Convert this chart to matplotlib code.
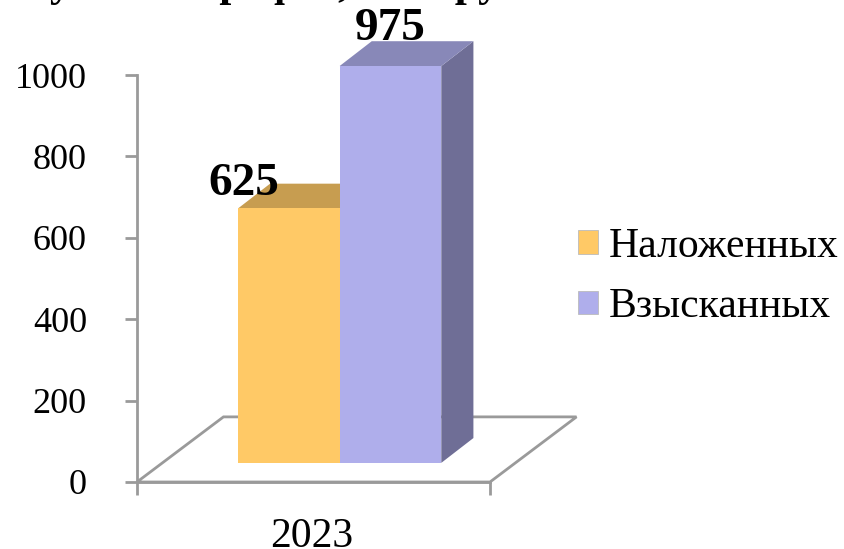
import matplotlib
matplotlib.use('Agg')
import matplotlib.pyplot as plt
from matplotlib.patches import Polygon, Patch

plt.rcParams['font.family'] = ['Liberation Serif', 'DejaVu Serif']

# ---- data ----
year = '2023'
series = ['Наложенных', 'Взысканных']
values = [625, 975]
yticks = [0, 200, 400, 600, 800, 1000]
title = 'Сумма штрафов, тыс. руб.'

front_colors = ['#FFC966', '#AFAEEB']
top_colors = ['#C79D50', '#8888B8']
side_colors = ['#C79D50', '#6F6E96']
grey = '#9A9A9A'

W, H = 844, 549
fig = plt.figure(figsize=(W / 100, H / 100), dpi=100)
ax = fig.add_axes([137 / W, 1 - 482 / H, (490 - 137) / W, (482 - 75) / H])
ax.set_xlim(0, 1)
ax.set_ylim(0, 1000)

# fake 3d offsets, in data units
floor_dx, floor_dy = 0.245, 160
bar_dx, bar_dy = 0.091, 61
bar_base = 47
bar_left = 0.286
bar_w = 0.288

# floor
ax.add_patch(Polygon([(0, 0), (1, 0), (1 + floor_dx, floor_dy), (floor_dx, floor_dy)],
                     closed=True, fill=False, edgecolor=grey, lw=2, clip_on=False, zorder=1))

# bars: side, top, front
for i, v in enumerate(values):
    x0 = bar_left + i * bar_w
    x1 = x0 + bar_w
    ax.add_patch(Polygon([(x1, bar_base), (x1 + bar_dx, bar_base + bar_dy),
                          (x1 + bar_dx, bar_base + bar_dy + v), (x1, bar_base + v)],
                         closed=True, facecolor=side_colors[i], edgecolor='none',
                         clip_on=False, zorder=2 + i))
    ax.add_patch(Polygon([(x0, bar_base + v), (x1, bar_base + v),
                          (x1 + bar_dx, bar_base + bar_dy + v), (x0 + bar_dx, bar_base + bar_dy + v)],
                         closed=True, facecolor=top_colors[i], edgecolor='none',
                         clip_on=False, zorder=2 + i))
    ax.add_patch(Polygon([(x0, bar_base), (x1, bar_base), (x1, bar_base + v), (x0, bar_base + v)],
                         closed=True, facecolor=front_colors[i], edgecolor='none',
                         clip_on=False, zorder=2 + i))

# value labels, the first one was moved by hand in the original
ax.text(bar_left + bar_w / 2 - 0.127, bar_base + values[0] + 60, str(values[0]),
        ha='center', va='center', fontsize=34, fontweight='bold', zorder=6)
ax.text(bar_left + 1.5 * bar_w, bar_base + values[1] + 91, str(values[1]),
        ha='center', va='center', fontsize=34, fontweight='bold', zorder=6, clip_on=False)

for s in ['top', 'right']:
    ax.spines[s].set_visible(False)
for s in ['left', 'bottom']:
    ax.spines[s].set_color(grey)
    ax.spines[s].set_linewidth(2)
    ax.spines[s].set_zorder(1)

ax.set_yticks(yticks)
ax.set_xticks([0, 1])
ax.set_xticklabels(['', ''])
ax.tick_params(axis='both', color=grey, width=2, length=9, labelsize=26, labelcolor='black')
ax.tick_params(axis='y', pad=27)
fig.text(312 / W, 1 - 547 / H, year, ha='center', va='baseline', fontsize=30)

handles = [Patch(facecolor=front_colors[i], edgecolor='#BBBBBB', lw=0.6, label=series[i]) for i in range(2)]
fig.legend(handles=handles, loc='center left', bbox_to_anchor=(540 / W, 1 - 277 / H),
           frameon=False, fontsize=30, handlelength=0.5, handleheight=0.5,
           handletextpad=0.25, labelspacing=0.52)

# title is cut off by the top edge of the picture
fig.text(0.326, 1 + 4 / H, title, ha='center', va='baseline', fontsize=31, fontweight='bold')
fig.savefig('out.png', dpi=100)
